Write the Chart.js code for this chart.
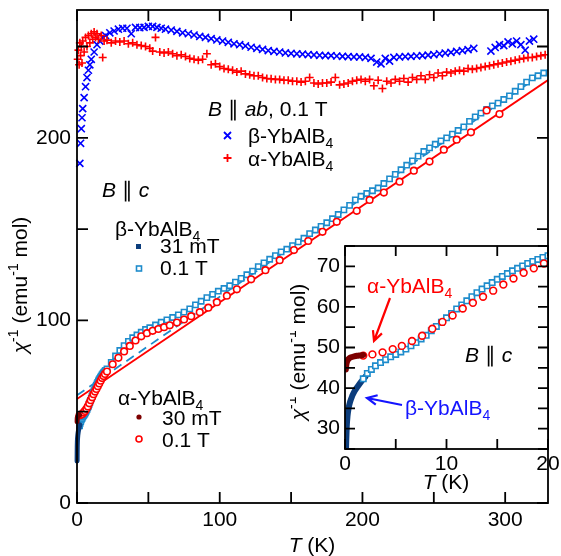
<!DOCTYPE html>
<html>
<head>
<meta charset="utf-8">
<script src="https://cdn.jsdelivr.net/npm/chart.js@4.4.1/dist/chart.umd.min.js"></script>
<style>
  html, body { margin: 0; padding: 0; background: #fff; }
  #wrap { position: relative; width: 561px; height: 556px; }
  #main { position: absolute; left: 0; top: 0; }
  #inset { position: absolute; left: 290px; top: 236px; }
</style>
</head>
<body>
<div id="wrap">
  <canvas id="main" width="561" height="556"></canvas>
  <canvas id="inset" width="271" height="264"></canvas>
</div>
<script>
const FONT = '"Liberation Sans", Arial, Helvetica, sans-serif';
const RED = '#ff0000', DARKRED = '#7d0000', BLUE = '#0000ff';
const LIGHTBLUE = '#1e8ccc', DARKBLUE = '#0c3d7c';

/* === DATA: [T (K), 1/chi (emu^-1 mol)] === */
// B || ab, 0.1 T
const betaAb = [[2,186],[2.5,197],[3,205],[3.5,211],[4,216],[5,222],[6,228],[7,233],[8,237],[9,240],[10,243],[12,247],[14,251],[16,253],[18,255],[20,256],[23,257.5],[26,258.5],[29,259.5],[32,260],[35,260],[38,257],[41,260.5],[44,260.3],[47,260.5],[50,261],[53,261],[56,260.5],[59,260],[62,259.5],[66,259],[70,258.3],[74,257.5],[78,257],[82,256.3],[86,255.5],[90,255],[94,254.3],[98,253.6],[102,253],[106,252.3],[110,251.5],[114,251],[118,250.3],[122,249.6],[126,249],[130,248.4],[134,247.8],[138,247.3],[142,247],[146,246.5],[150,246.2],[154,246],[158,245.8],[162,245.6],[166,245.4],[170,245.2],[174,245],[178,245],[182,244.8],[186,244.6],[190,244.5],[194,244.3],[198,244.3],[202,244],[206,243.5],[210,241.5],[213,240.5],[216,243.5],[219,242],[222,244],[226,244.3],[230,244.5],[234,244.6],[238,244.8],[242,245],[246,245.3],[250,245.6],[254,246],[258,246.4],[262,246.8],[266,247.3],[270,247.8],[274,248.3],[278,249],[290,247.5],[293,249.5],[296,251],[299,250.5],[302,252.5],[305,251.5],[308,253],[311,251],[314,248],[317,253],[320,254]];
const alphaAb = [[0.5,243],[1,248],[1.5,240],[2,252],[2.5,245],[3,250],[3.5,241],[4,253],[5,247],[6,255],[7,250],[8,256],[9,252],[10,257],[11,254],[12,258],[13,255],[14,257],[15,254],[17,256],[18,244],[19,253],[21,253.5],[24,252],[27,253],[30,252.5],[33,253],[36,251.5],[39,252],[42,251],[45,250.5],[48,250],[51,249],[53,247.5],[55,255],[58,247],[61,246.5],[64,247],[67,246],[70,245],[73,245.5],[76,244.5],[79,243.5],[82,243],[85,242.5],[88,243],[91,246],[94,240],[97,240.5],[100,239],[103,238],[106,237.5],[109,237],[112,236],[115,236.5],[118,235],[121,234.5],[124,234],[127,234],[130,233],[133,232.5],[136,232.3],[139,232],[142,232],[145,231.5],[148,231.5],[151,231],[154,231],[157,230.5],[160,231],[163,233],[166,230],[169,229.5],[172,230],[175,230],[178,230.5],[181,233],[184,229],[187,229.5],[190,230],[193,231],[196,231.5],[199,232],[202,231],[205,232],[208,228.5],[211,231.5],[214,227],[217,231],[220,230],[223,232],[226,231],[229,232.5],[232,230.5],[235,233],[238,232],[241,234],[244,232],[247,234.5],[250,233],[253,235.5],[256,234],[259,236],[262,235.5],[265,236.5],[268,237],[271,236.5],[274,238],[277,237.5],[280,238],[283,238.5],[286,239],[289,239.5],[292,240],[295,240.5],[298,241],[301,241.5],[304,242],[307,242.5],[310,243],[313,243.5],[316,244],[319,244],[322,244.5],[325,245],[328,245.5]];

// B || c
const beta31mT = [[0.08,23],[0.12,27],[0.17,30.5],[0.25,33.2],[0.35,35],[0.5,36.6],[0.7,38],[0.95,39.3],[1.25,40.4],[1.6,41.6],[2.0,42.8]];
const beta01T = [[1.8,42.3],[2.2,43.6],[2.6,44.6],[3.0,45.5],[3.5,46.3],[4.0,47],[4.5,47.7],[5.0,48.3],[5.5,48.9],[6.0,49.6],[6.5,50.4],[7.0,51.2],[7.5,52.1],[8.0,53],[8.5,54.1],[9.0,55.2],[9.5,56.2],[10,57.3],[10.5,58.4],[11,59.5],[11.5,60.5],[12,61.5],[12.5,62.5],[13,63.5],[13.5,64.4],[14,65.2],[14.5,66],[15,66.8],[15.5,67.5],[16,68.2],[16.5,68.9],[17,69.5],[17.5,70.1],[18,70.7],[18.5,71.2],[19,71.7],[19.5,72.2],[20,72.6],[21,73.5],[24,77],[27,80.5],[30,83.5],[33,86.2],[36,88.5],[39,90.5],[42,92],[45,93.5],[48,95],[51,96],[55,97.5],[59,99],[63,100.3],[67,101.6],[71,103],[75,104.5],[79,106.3],[83,108.5],[87,110.5],[91,112.5],[95,114.3],[99,116],[103,117.5],[107,119],[111,121],[115,123],[119,125],[123,127],[127,129.5],[131,131.5],[135,133.5],[139,135.5],[143,137.5],[147,139],[151,141],[155,143],[159,145],[163,147.5],[167,149.5],[171,151.5],[175,153.5],[179,155.7],[183,158],[187,160.5],[191,163],[195,166],[199,168],[203,169.5],[207,171],[211,172.5],[215,175],[219,177.5],[223,180],[227,182.5],[231,185],[235,187.4],[239,190],[243,192.5],[247,194.5],[251,196.5],[255,198.3],[259,200],[263,202],[267,204],[271,206],[275,209],[279,211.5],[283,213.5],[287,215.5],[291,217.5],[295,219],[299,221],[303,223],[307,225.5],[311,228],[315,230.5],[319,232.8],[323,234],[327,235.5]];
const alpha30mT = [[0.08,44.6],[0.12,45.6],[0.18,46.4],[0.27,46.9],[0.4,47.3],[0.6,47.6],[0.9,47.8],[1.2,47.95],[1.5,48.05],[1.8,48.15]];
const alpha01T = [[1.8,48.0],[2.7,48.3],[3.7,48.8],[4.7,49.6],[5.6,50.4],[6.6,51.6],[7.6,52.9],[8.6,54.6],[9.6,56.3],[10.6,57.9],[11.6,59.6],[12.6,61.0],[13.6,62.5],[14.6,64.0],[15.6,65.5],[16.6,67.0],[17.6,68.4],[18.6,69.5],[19.6,70.7],[21,72],[25,76],[29,79.5],[33,83],[37,86],[41,89],[45,91.3],[49,93],[53,94.3],[57,95.3],[61,96.3],[65,97.3],[70,98.8],[75,100.5],[80,102.3],[86,104.5],[92,107],[98,110],[105,113.5],[112,117],[122,122.5],[132,127.5],[142,133],[152,138.5],[162,143.5],[172,148.5],[182,154],[196,160],[205,166],[215,170],[226,176],[236,182],[247,187],[257,193.5],[266,199],[276,203],[287,215],[296,213]];

// Curie-Weiss fit lines (end points)
const fitAlpha = [[0,57],[330,231.6]];
const fitBeta = [[0,59],[330,237.2]];

// axes
const mainXTicks = [0, 50, 100, 150, 200, 250, 300];
const mainYTicks = [0, 50, 100, 150, 200, 250];
const mainXLabels = [0, 100, 200, 300];
const mainYLabels = [0, 100, 200];
const insetXTicks = [0, 5, 10, 15, 20];
const insetYTicks = [25, 30, 35, 40, 45, 50, 55, 60, 65, 70, 75];
const insetXLabels = [0, 10, 20];
const insetYLabels = [30, 40, 50, 60, 70];

Chart.defaults.font.family = FONT;
Chart.defaults.font.size = 21;
Chart.defaults.color = '#000';

const xy = arr => arr.map(p => ({ x: p[0], y: p[1] }));

/* === TEXT HELPERS === */
function drawRich(ctx, parts, x, y, opt = {}) {
  const size = opt.size || 21;
  const small = Math.round(size * 0.68);
  const fontOf = p => (p.it ? 'italic ' : '') + ((p.sub || p.sup) ? small : size) + 'px ' + FONT;
  let w = 0;
  parts.forEach(p => { ctx.font = fontOf(p); w += ctx.measureText(p.t).width; });
  let cx = opt.align === 'center' ? x - w / 2 : x;
  ctx.fillStyle = opt.color || '#000';
  ctx.textBaseline = 'alphabetic';
  ctx.textAlign = 'left';
  parts.forEach(p => {
    ctx.font = fontOf(p);
    const dy = p.sub ? size * 0.26 : p.sup ? -size * 0.42 : 0;
    ctx.fillText(p.t, cx, y + dy);
    cx += ctx.measureText(p.t).width;
  });
}
const compound = g => [{ t: g + '-YbAlB' }, { t: '4', sub: true }];
const chiTitle = [{ t: 'χ', it: true }, { t: '-1', sup: true }, { t: ' (emu' }, { t: '-1', sup: true }, { t: ' mol)' }];
const tTitle = [{ t: 'T', it: true }, { t: ' (K)' }];

function drawVertical(ctx, parts, x, y) {
  ctx.save();
  ctx.translate(x, y);
  ctx.rotate(-Math.PI / 2);
  drawRich(ctx, parts, 0, 0, { align: 'center' });
  ctx.restore();
}

function arrow(ctx, x1, y1, x2, y2, color) {
  const ang = Math.atan2(y2 - y1, x2 - x1), h = 11;
  ctx.save();
  ctx.strokeStyle = color;
  ctx.lineWidth = 2.2;
  ctx.beginPath();
  ctx.moveTo(x1, y1); ctx.lineTo(x2, y2);
  ctx.moveTo(x2 - h * Math.cos(ang - 0.45), y2 - h * Math.sin(ang - 0.45));
  ctx.lineTo(x2, y2);
  ctx.lineTo(x2 - h * Math.cos(ang + 0.45), y2 - h * Math.sin(ang + 0.45));
  ctx.stroke();
  ctx.restore();
}

/* === SCALES === */
function linScale(min, max, labels, size, pad, axis) {
  return {
    type: 'linear', min, max,
    grid: { display: false, drawTicks: false },
    border: { display: false },
    ticks: { padding: pad, color: '#000', font: { size: 21, family: FONT }, autoSkip: false, maxRotation: 0 },
    afterBuildTicks: s => { s.ticks = labels.map(v => ({ value: v })); },
    afterFit: s => {
      if (axis === 'x') { s.height = size; s.paddingLeft = 0; s.paddingRight = 0; }
      else { s.width = size; s.paddingTop = 0; s.paddingBottom = 0; }
    }
  };
}

function frameTicks(xTicks, yTicks, len) {
  return {
    id: 'frameTicks',
    afterDatasetsDraw(chart) {
      const { ctx, chartArea: a, scales: { x, y } } = chart;
      ctx.save();
      ctx.strokeStyle = '#000';
      ctx.lineWidth = 1.8;
      ctx.beginPath();
      xTicks.forEach(v => {
        const px = x.getPixelForValue(v);
        ctx.moveTo(px, a.bottom); ctx.lineTo(px, a.bottom - len);
        ctx.moveTo(px, a.top); ctx.lineTo(px, a.top + len);
      });
      yTicks.forEach(v => {
        const py = y.getPixelForValue(v);
        ctx.moveTo(a.left, py); ctx.lineTo(a.left + len, py);
        ctx.moveTo(a.right, py); ctx.lineTo(a.right - len, py);
      });
      ctx.stroke();
      ctx.strokeRect(a.left, a.top, a.right - a.left, a.bottom - a.top);
      ctx.restore();
    }
  };
}

/* === DATASET MAKERS === */
function thick(data, color, w) {
  return { data: xy(data), showLine: true, borderColor: color, borderWidth: w, pointRadius: 0,
    cubicInterpolationMode: 'monotone', borderCapStyle: 'round' };
}
function marks(data, style, color, r, fill) {
  return { data: xy(data), showLine: false, pointStyle: style, pointRadius: r,
    pointBorderColor: color, pointBackgroundColor: fill || '#fff', pointBorderWidth: 1.6 };
}
function fitLine(data, color, dash) {
  return { data: xy(data), showLine: true, borderColor: color, borderWidth: 1.8, borderDash: dash || [], pointRadius: 0 };
}

/* === MAIN CHART === */
const mainNotes = {
  id: 'mainNotes',
  afterDraw(chart) {
    const ctx = chart.ctx;
    drawVertical(ctx, chiTitle, 27, 285);
    drawRich(ctx, tTitle, 312, 552, { align: 'center' });

    drawRich(ctx, [{ t: 'B', it: true }, { t: ' ∥ ' }, { t: 'ab', it: true }, { t: ', 0.1 T' }], 208, 116);
    ctx.save();
    ctx.lineWidth = 1.8;
    ctx.strokeStyle = BLUE;
    ctx.beginPath();
    ctx.moveTo(224, 132); ctx.lineTo(231, 139); ctx.moveTo(231, 132); ctx.lineTo(224, 139);
    ctx.stroke();
    ctx.strokeStyle = RED;
    ctx.beginPath();
    ctx.moveTo(223.5, 158); ctx.lineTo(231.5, 158); ctx.moveTo(227.5, 154); ctx.lineTo(227.5, 162);
    ctx.stroke();
    ctx.restore();
    drawRich(ctx, compound('β'), 248, 143);
    drawRich(ctx, compound('α'), 248, 166);

    drawRich(ctx, [{ t: 'B', it: true }, { t: ' ∥ ' }, { t: 'c', it: true }], 102, 197);
    drawRich(ctx, compound('β'), 115, 236);
    ctx.save();
    ctx.fillStyle = DARKBLUE;
    ctx.fillRect(136, 244, 5, 5);
    ctx.strokeStyle = LIGHTBLUE; ctx.lineWidth = 1.6;
    ctx.strokeRect(136.5, 266, 5, 5);
    ctx.restore();
    drawRich(ctx, [{ t: '31 mT' }], 160, 253);
    drawRich(ctx, [{ t: '0.1 T' }], 160, 275);

    drawRich(ctx, compound('α'), 118, 405);
    ctx.save();
    ctx.fillStyle = DARKRED;
    ctx.beginPath(); ctx.arc(139, 417, 2.6, 0, 2 * Math.PI); ctx.fill();
    ctx.strokeStyle = RED; ctx.lineWidth = 1.6;
    ctx.beginPath(); ctx.arc(139, 439, 3, 0, 2 * Math.PI); ctx.stroke();
    ctx.restore();
    drawRich(ctx, [{ t: '30 mT' }], 162, 425);
    drawRich(ctx, [{ t: '0.1 T' }], 162, 447);
  }
};

new Chart(document.getElementById('main'), {
  type: 'scatter',
  data: {
    datasets: [
      thick(alpha30mT, DARKRED, 5),
      marks(alpha01T, 'circle', RED, 3.3),
      thick(beta31mT, DARKBLUE, 5),
      marks(beta01T, 'rect', LIGHTBLUE, 3.7),
      fitLine(fitAlpha, RED),
      fitLine(fitBeta, LIGHTBLUE, [9, 6]),
      marks(alphaAb, 'cross', RED, 4),
      marks(betaAb, 'crossRot', BLUE, 5)
    ].map(d => Object.assign(d, { clip: { left: 5, top: 0, right: 0, bottom: 0 } }))
  },
  options: {
    responsive: false, animation: false, devicePixelRatio: 1,
    layout: { padding: { left: 0, top: 10, right: 13, bottom: 0 }, autoPadding: false },
    plugins: { legend: { display: false }, tooltip: { enabled: false } },
    scales: {
      x: linScale(0, 330, mainXLabels, 53, 5, 'x'),
      y: linScale(0, 270, mainYLabels, 77, 6, 'y')
    }
  },
  plugins: [frameTicks(mainXTicks, mainYTicks, 11), mainNotes]
});

/* === INSET === */
const insetBg = {
  id: 'insetBg',
  beforeDatasetsDraw(chart) {
    const { ctx, chartArea: a } = chart;
    ctx.save();
    ctx.fillStyle = '#fff';
    ctx.fillRect(a.left, a.top, a.right - a.left, a.bottom - a.top);
    ctx.restore();
  }
};
const insetNotes = {
  id: 'insetNotes',
  afterDraw(chart) {
    const ctx = chart.ctx;
    drawVertical(ctx, chiTitle, 15, 116);
    drawRich(ctx, tTitle, 156, 253, { align: 'center' });
    drawRich(ctx, compound('α'), 77, 57, { color: RED });
    arrow(ctx, 100, 62, 84, 105, RED);
    drawRich(ctx, [{ t: 'B', it: true }, { t: ' ∥ ' }, { t: 'c', it: true }], 175, 126);
    drawRich(ctx, compound('β'), 115, 179, { color: '#1414ff' });
    arrow(ctx, 112, 169, 77, 162, '#1414ff');
  }
};

new Chart(document.getElementById('inset'), {
  type: 'scatter',
  data: {
    datasets: [
      thick(alpha30mT, DARKRED, 6),
      marks(alpha01T, 'circle', RED, 3.4),
      marks(beta01T, 'rect', LIGHTBLUE, 3.8),
      thick(beta31mT, DARKBLUE, 6)
    ]
  },
  options: {
    responsive: false, animation: false, devicePixelRatio: 1,
    layout: { padding: { left: 0, top: 10, right: 13, bottom: 0 }, autoPadding: false },
    plugins: { legend: { display: false }, tooltip: { enabled: false } },
    scales: {
      x: linScale(0, 20, insetXLabels, 51, 3, 'x'),
      y: linScale(25, 75, insetYLabels, 55, 5, 'y')
    }
  },
  plugins: [insetBg, frameTicks(insetXTicks, insetYTicks, 10), insetNotes]
});
</script>
</body>
</html>
